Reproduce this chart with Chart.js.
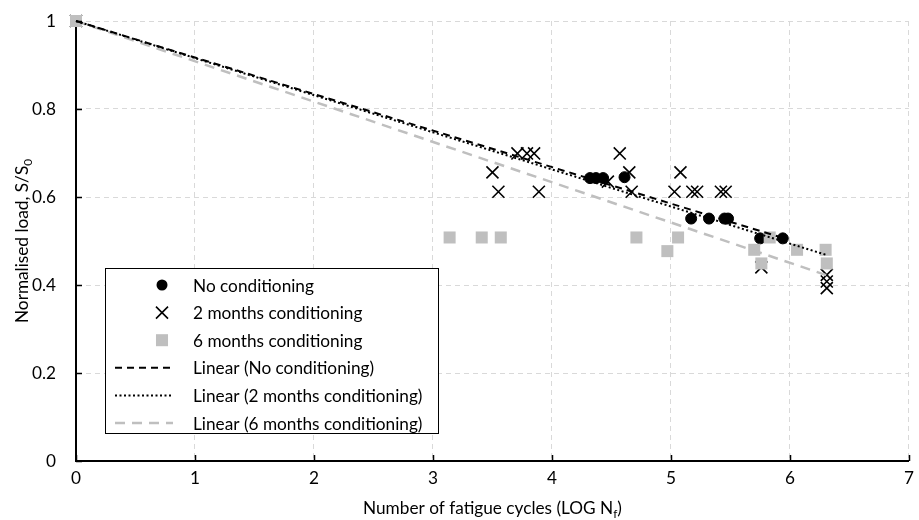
<!DOCTYPE html>
<html><head><meta charset="utf-8">
<script src="https://cdn.jsdelivr.net/npm/chart.js@4/dist/chart.umd.min.js"></script>
<style>html,body{margin:0;padding:0;background:#fff}</style>
</head><body>
<canvas id="c" width="919" height="520" style="width:919px;height:520px;display:block"></canvas>
<script>
// ---- data ----
const noCondX = [0, 4.32, 4.37, 4.43, 4.61, 5.17, 5.32, 5.45, 5.48, 5.75, 5.94];
const noCondY = [1, 0.643, 0.643, 0.643, 0.645, 0.551, 0.551, 0.551, 0.551, 0.506, 0.506];

const twoMonX = [0, 3.50, 3.55, 3.71, 3.79, 3.85, 3.89, 4.47, 4.57, 4.65, 4.67, 5.03, 5.08, 5.18, 5.22, 5.42, 5.46, 5.76, 6.31, 6.31, 6.31];
const twoMonY = [1, 0.656, 0.612, 0.699, 0.699, 0.699, 0.612, 0.635, 0.699, 0.656, 0.612, 0.612, 0.656, 0.612, 0.612, 0.612, 0.612, 0.44, 0.423, 0.408, 0.393];

const sixMonX = [0, 3.14, 3.41, 3.57, 4.71, 4.97, 5.06, 5.70, 5.76, 5.83, 6.06, 6.30, 6.31];
const sixMonY = [1, 0.508, 0.508, 0.508, 0.508, 0.477, 0.508, 0.48, 0.449, 0.508, 0.48, 0.48, 0.449];

const trendNoX = [0, 5.94];   const trendNoY = [1, 0.507];
const trend2X  = [0, 6.31];   const trend2Y  = [1, 0.468];
const trend6X  = [0, 6.31];   const trend6Y  = [1, 0.422];

const xTickValues = [0, 1, 2, 3, 4, 5, 6, 7];
const xTickLabels = ['0', '1', '2', '3', '4', '5', '6', '7'];
const yTickValues = [0, 0.2, 0.4, 0.6, 0.8, 1];
const yTickLabels = ['0', '0.2', '0.4', '0.6', '0.8', '1'];

const seriesNames = ['No conditioning', '2 months conditioning', '6 months conditioning',
  'Linear (No conditioning)', 'Linear (2 months conditioning)', 'Linear (6 months conditioning)'];

// ---- styling ----
const FAMILY = 'Lato, "Open Sans", "DejaVu Sans", sans-serif';
function fitSize(text, w) {
  const c = document.createElement('canvas').getContext('2d');
  c.font = '100px ' + FAMILY;
  return Math.max(13, Math.min(19, 100 * w / c.measureText(text).width));
}
const FS = fitSize('No conditioning', 121);
const GREY = '#BFBFBF';

const pts = (xs, ys) => xs.map((x, i) => ({ x: x, y: ys[i] }));

const styles = {
  no:  { pointStyle: 'circle', pointRadius: 5.5, backgroundColor: '#000', borderColor: '#000', borderWidth: 1 },
  two: { pointStyle: 'crossRot', pointRadius: 8.5, backgroundColor: '#000', borderColor: '#000', borderWidth: 1.6 },
  six: { pointStyle: 'rect', pointRadius: 8.5, backgroundColor: GREY, borderColor: GREY, borderWidth: 0 },
  tNo: { borderColor: '#000', borderWidth: 2, borderDash: [7, 5] },
  t2:  { borderColor: '#000', borderWidth: 2, borderDash: [2, 2.5] },
  t6:  { borderColor: GREY, borderWidth: 2.5, borderDash: [10, 7] }
};

function drawMarker(ctx, st, x, y) {
  ctx.save();
  const r = st.pointRadius;
  if (st.pointStyle === 'circle') {
    ctx.fillStyle = st.backgroundColor;
    ctx.beginPath(); ctx.arc(x, y, r, 0, Math.PI * 2); ctx.fill();
  } else if (st.pointStyle === 'rect') {
    const s = Math.SQRT1_2 * r;
    ctx.fillStyle = st.backgroundColor;
    ctx.fillRect(x - s, y - s, 2 * s, 2 * s);
  } else {
    const o = Math.SQRT1_2 * r;
    ctx.strokeStyle = st.borderColor; ctx.lineWidth = st.borderWidth;
    ctx.beginPath();
    ctx.moveTo(x - o, y - o); ctx.lineTo(x + o, y + o);
    ctx.moveTo(x - o, y + o); ctx.lineTo(x + o, y - o);
    ctx.stroke();
  }
  ctx.restore();
}

function drawSubText(ctx, parts, x, y, size, align) {
  const subSize = size * 0.68;
  let total = 0;
  parts.forEach(p => { ctx.font = (p[1] ? subSize : size) + 'px ' + FAMILY; total += ctx.measureText(p[0]).width; });
  let cx = align === 'center' ? x - total / 2 : x;
  ctx.textAlign = 'left'; ctx.textBaseline = 'alphabetic';
  parts.forEach(p => {
    ctx.font = (p[1] ? subSize : size) + 'px ' + FAMILY;
    ctx.fillText(p[0], cx, y + (p[1] ? size * 0.22 : 0));
    cx += ctx.measureText(p[0]).width;
  });
}

const decor = {
  id: 'decor',
  afterDraw(chart) {
    const ctx = chart.ctx, a = chart.chartArea, xs = chart.scales.x, ys = chart.scales.y;
    ctx.save();
    ctx.strokeStyle = '#000'; ctx.lineWidth = 1.5;
    ctx.beginPath();
    yTickValues.forEach(v => { const p = Math.round(ys.getPixelForValue(v)) + 0.5; ctx.moveTo(a.left, p); ctx.lineTo(a.left + 6, p); });
    xTickValues.forEach(v => { const p = Math.round(xs.getPixelForValue(v)) + 0.5; ctx.moveTo(p, a.bottom); ctx.lineTo(p, a.bottom - 6); });
    ctx.stroke();

    ctx.fillStyle = '#000';
    drawSubText(ctx, [['Number of fatigue cycles (LOG N', false], ['f', true], [')', false]], (a.left + a.right) / 2, 514, FS, 'center');
    ctx.save();
    ctx.translate(22, (a.top + a.bottom) / 2);
    ctx.rotate(-Math.PI / 2);
    drawSubText(ctx, [['Normalised load, S/S', false], ['0', true]], 0, 6, FS, 'center');
    ctx.restore();

    const L = { x: 105.5, y: 268.5, w: 333, h: 165 };
    ctx.fillStyle = '#fff'; ctx.fillRect(L.x, L.y, L.w, L.h);
    ctx.strokeStyle = '#000'; ctx.lineWidth = 1; ctx.setLineDash([]);
    ctx.strokeRect(L.x, L.y, L.w, L.h);
    const rowY = i => 285 + i * 27.6;
    const mk = [styles.no, styles.two, styles.six];
    const ln = [styles.tNo, styles.t2, styles.t6];
    for (let i = 0; i < 6; i++) {
      const yy = rowY(i);
      if (i < 3) drawMarker(ctx, mk[i], 162, yy);
      else {
        const s = ln[i - 3];
        ctx.save(); ctx.strokeStyle = s.borderColor; ctx.lineWidth = s.borderWidth; ctx.setLineDash(s.borderDash);
        ctx.beginPath(); ctx.moveTo(115, yy); ctx.lineTo(173, yy); ctx.stroke(); ctx.restore();
      }
      ctx.fillStyle = '#000'; ctx.font = FS + 'px ' + FAMILY; ctx.textAlign = 'left'; ctx.textBaseline = 'middle';
      ctx.fillText(seriesNames[i], 193, yy + 1);
    }
    ctx.restore();
  }
};

const lineDs = (label, xs, ysv, st, order) => Object.assign({
  label, data: pts(xs, ysv), showLine: true, pointRadius: 0, fill: false, order, clip: false
}, st);
const ptDs = (label, xs, ysv, st, order) => Object.assign({
  label, data: pts(xs, ysv), showLine: false, order, clip: false, pointHoverRadius: st.pointRadius
}, st);

new Chart(document.getElementById('c'), {
  type: 'scatter',
  data: {
    datasets: [
      lineDs(seriesNames[3], trendNoX, trendNoY, styles.tNo, 1),
      lineDs(seriesNames[4], trend2X, trend2Y, styles.t2, 2),
      lineDs(seriesNames[5], trend6X, trend6Y, styles.t6, 3),
      ptDs(seriesNames[2], sixMonX, sixMonY, styles.six, 4),
      ptDs(seriesNames[1], twoMonX, twoMonY, styles.two, 5),
      ptDs(seriesNames[0], noCondX, noCondY, styles.no, 6)
    ]
  },
  options: {
    responsive: false, animation: false, events: [],
    layout: { padding: { top: 21, right: 9, left: 0, bottom: 0 } },
    plugins: { legend: { display: false }, tooltip: { enabled: false } },
    scales: {
      x: {
        type: 'linear', min: 0, max: 7,
        afterBuildTicks: s => { s.ticks = xTickValues.map(v => ({ value: v })); },
        ticks: { color: '#000', font: { family: FAMILY, size: FS }, padding: 7, maxRotation: 0,
                 callback: (v, i) => xTickLabels[i] },
        grid: { color: '#D9D9D9', lineWidth: 1, drawTicks: false },
        border: { color: '#000', width: 2, dash: [5, 4] },
        afterFit: s => { s.height = 59; s.paddingLeft = 0; s.paddingRight = 0; }
      },
      y: {
        type: 'linear', min: 0, max: 1,
        afterBuildTicks: s => { s.ticks = yTickValues.map(v => ({ value: v })); },
        ticks: { color: '#000', font: { family: FAMILY, size: FS }, padding: 20,
                 callback: (v, i) => yTickLabels[i] },
        grid: { color: '#D9D9D9', lineWidth: 1, drawTicks: false },
        border: { color: '#000', width: 2, dash: [5, 4] },
        afterFit: s => { s.width = 76; s.paddingTop = 0; s.paddingBottom = 0; }
      }
    }
  },
  plugins: [decor]
});
</script>
</body></html>
